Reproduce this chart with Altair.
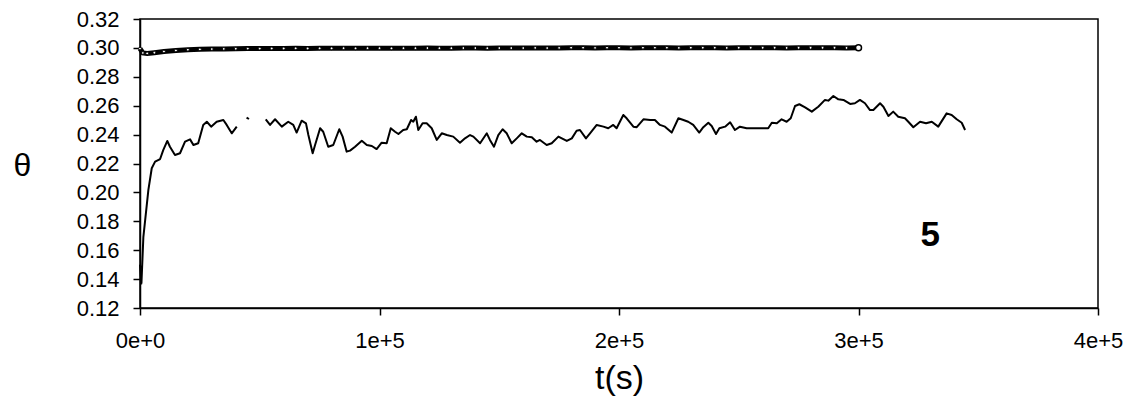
import altair as alt
import pandas as pd

# lower series (t in thousands of seconds, theta)
t_low_ks = [0, 0.6, 1.4, 3.5, 4.9, 6.3, 8.4, 9.7, 11.4, 12.5, 14.6, 16.7, 18.8, 20.9, 22.3, 24.3,
            26.4, 27.9, 29.7, 32.0, 34.8, 36.2, 38.3, 40.4, 42.0, 44.5, 45.5, 48.0,
            52.5, 54.3, 56.4, 59.2, 61.9, 64.0, 65.4, 67.5, 69.3, 70.3, 72.1, 73.1, 75.2, 76.5,
            78.6, 80.7, 83.2, 84.6, 86.3, 87.7, 89.8, 92.6, 94.7, 96.8, 98.8, 100.9, 103.0,
            104.7, 106.5, 107.9, 109.9, 111.4, 113.2, 114.1, 115.2, 116.2, 118.0, 119.7, 121.8,
            123.9, 126.0, 128.1, 130.8, 133.6, 135.7, 137.8, 139.2, 142.0, 144.8, 146.1, 147.8,
            149.6, 151.4, 153.1, 155.2, 157.3, 159.4, 161.5, 163.6, 165.6, 167.0, 169.8, 171.9,
            174.7, 178.2, 180.3, 182.3, 183.7, 186.2, 187.9, 190.7, 193.5, 195.5, 197.6, 199.0,
            201.8, 203.2, 206.0, 207.4, 210.2, 213.0, 215.0, 217.1, 219.2, 222.0, 224.8, 226.9,
            228.9, 231.0, 233.5, 235.2, 237.3, 238.7, 240.5, 241.9, 244.3, 246.4, 248.4, 250.5,
            253.3, 262.3, 263.8, 265.9, 267.9, 270.0, 271.7, 273.5, 275.3, 277.7, 280.5, 283.2,
            286.0, 287.4, 289.5, 291.6, 293.7, 296.5, 298.5, 300.6, 302.7, 304.8, 306.2, 309.0,
            310.4, 312.5, 314.5, 316.6, 319.4, 320.8, 322.9, 325.7, 328.2, 330.6, 333.3, 336.8,
            338.9, 341.0, 343.1, 344.5]
theta_low = [0.150, 0.137, 0.169, 0.2017, 0.2167, 0.2213, 0.2231, 0.2293, 0.2356, 0.2316, 0.2259,
             0.2271, 0.2351, 0.2367, 0.2328, 0.234, 0.2467, 0.2489, 0.2455, 0.2489, 0.2501, 0.2467,
             0.2409, 0.2455, None, 0.2518, 0.2508, None,
             0.2506, 0.2467, 0.2506, 0.2455, 0.2489, 0.2467, 0.2414, 0.2496, 0.2478, 0.2397,
             0.2271, 0.2328, 0.2444, 0.242, 0.2316, 0.2328, 0.2437, 0.2386, 0.2282, 0.2289,
             0.2316, 0.2358, 0.2328, 0.2321, 0.230, 0.2344, 0.234, 0.2444, 0.242, 0.2404, 0.2432,
             0.2437, 0.2501, 0.2489, 0.2524, 0.2432, 0.2478, 0.2478, 0.2444, 0.2363, 0.2409,
             0.2397, 0.2386, 0.2344, 0.2374, 0.2397, 0.2386, 0.234, 0.2409, 0.2363, 0.2316,
             0.2397, 0.2437, 0.2409, 0.234, 0.2374, 0.2409, 0.2386, 0.2382, 0.2351, 0.2363,
             0.2328, 0.234, 0.2386, 0.2356, 0.2374, 0.2427, 0.2432, 0.2374, 0.2409, 0.2467,
             0.2455, 0.2444, 0.2467, 0.2444, 0.2536, 0.2513, 0.2455, 0.2451, 0.2506, 0.2501,
             0.2501, 0.2467, 0.2455, 0.2414, 0.2513, 0.2501, 0.2489, 0.2467, 0.2414, 0.2451,
             0.2482, 0.246, 0.2404, 0.2444, 0.2455, 0.2485, 0.2432, 0.2455, 0.2444, 0.2444,
             0.2482, 0.2478, 0.2506, 0.2489, 0.2513, 0.2598, 0.261, 0.2589, 0.2559, 0.2593,
             0.264, 0.2635, 0.2667, 0.2644, 0.264, 0.2612, 0.2617, 0.264, 0.2617, 0.257, 0.257,
             0.2617, 0.2593, 0.2529, 0.2559, 0.2524, 0.2513, 0.2489, 0.2451, 0.2489, 0.2478,
             0.2489, 0.2455, 0.2547, 0.2536, 0.2506, 0.2482, 0.2432]

# upper series (open-circle markers)
t_top_ks = [0, 1.2, 3, 6, 10, 15, 20, 25, 30, 35, 40, 45, 50, 55, 60, 65, 70, 75, 80, 85, 90,
            95, 100, 105, 110, 115, 120, 125, 130, 135, 140, 145, 150, 155, 160, 165, 170, 175,
            180, 185, 190, 195, 200, 205, 210, 215, 220, 225, 230, 235, 240, 245, 250, 255, 260,
            265, 270, 275, 280, 285, 290, 295, 300]
theta_top = [0.2995, 0.2965, 0.2962, 0.2967, 0.2975, 0.2982, 0.2987, 0.2990, 0.2992, 0.2993,
             0.2994, 0.2995, 0.2995, 0.2996, 0.2996, 0.2997, 0.2996, 0.2997, 0.2997, 0.2998,
             0.2997, 0.2998, 0.2998, 0.2997, 0.2998, 0.2998, 0.2999, 0.2998, 0.2998, 0.2999,
             0.2999, 0.2998, 0.2999, 0.2999, 0.2999, 0.3000, 0.2999, 0.3000, 0.3001, 0.3001,
             0.3000, 0.3001, 0.3001, 0.3000, 0.3001, 0.3001, 0.3001, 0.3000, 0.3001, 0.3001,
             0.3001, 0.3000, 0.3001, 0.3001, 0.3001, 0.3001, 0.3000, 0.3001, 0.3001, 0.3001,
             0.3001, 0.3000, 0.3001]

label_t_ks = [330]
label_theta = [0.1705]
label_text = ["5"]

x_ticks = [0, 100000, 200000, 300000, 400000]
y_ticks = [0.12, 0.14, 0.16, 0.18, 0.20, 0.22, 0.24, 0.26, 0.28, 0.30, 0.32]

low = pd.DataFrame({"t": [v * 1000 for v in t_low_ks], "theta": theta_low})
top = pd.DataFrame({"t": [v * 1000 for v in t_top_ks], "theta": theta_top})
end = top.tail(1)
lab = pd.DataFrame({"t": [v * 1000 for v in label_t_ks], "theta": label_theta, "txt": label_text})

FONT = "Liberation Sans"

x_enc = alt.X("t:Q", scale=alt.Scale(domain=[0, 400000], nice=False),
              axis=alt.Axis(values=x_ticks, format=".0e", title="t(s)", labelPadding=15,
                            ticks=True, tickSize=7, tickColor="black", tickWidth=1.5,
                            labelFontSize=22, titleFontSize=34, titleFontWeight="normal",
                            titleY=70, titleBaseline="middle", labelFlush=False))
y_enc = alt.Y("theta:Q", scale=alt.Scale(domain=[0.12, 0.32], nice=False, zero=False),
              axis=alt.Axis(values=y_ticks, format=".2f", title="θ", labelPadding=14,
                            ticks=True, tickSize=7, tickColor="black", tickWidth=1.5,
                            labelFontSize=22, labelBaseline="middle",
                            titleAngle=0, titleX=-118, titleY=146, titleAlign="center",
                            titleBaseline="middle", titleFontSize=32, titleFontWeight="normal",
                            labelFlush=False))

top_line = alt.Chart(top).mark_line(color="black", strokeWidth=5).encode(x=x_enc, y=y_enc)
top_pts = alt.Chart(top).mark_point(shape="circle", filled=True, fill="white", stroke="black",
                                    strokeWidth=1, size=8, opacity=1).encode(x=x_enc, y=y_enc)
end_pt = alt.Chart(end).mark_point(shape="circle", filled=True, fill="white", stroke="black",
                                   strokeWidth=1.5, size=36, opacity=1).encode(x=x_enc, y=y_enc)
low_line = alt.Chart(low).mark_line(color="black", strokeWidth=2,
                                    strokeJoin="round").encode(x=x_enc, y=y_enc)
txt = alt.Chart(lab).mark_text(font="Liberation Sans", fontSize=35, fontWeight="bold",
                               color="black", align="center", baseline="middle").encode(
    x=x_enc, y=y_enc, text="txt:N")

chart = alt.layer(top_line, top_pts, end_pt, low_line, txt).properties(
    width=958, height=289,
    autosize=alt.AutoSizeParams(type="none"),
    padding={"left": 132, "top": 11, "right": 27, "bottom": 90},
).configure_view(stroke="black", strokeWidth=1.5).configure_axis(
    grid=False, domainColor="black", labelColor="black", titleColor="black",
    labelFont=FONT, titleFont=FONT, domainWidth=1.5,
)

chart.save("out.html", embed_options={"renderer": "svg", "actions": False})
